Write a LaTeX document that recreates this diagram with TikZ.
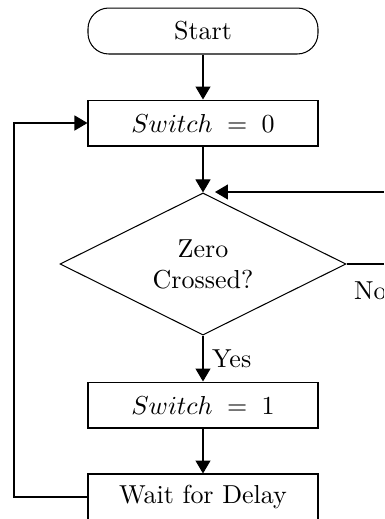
\documentclass[tikz,border=0pt]{standalone}
\usetikzlibrary{shapes.geometric,arrows.meta}
\begin{document}
\begin{tikzpicture}[x=0.385pt,y=-0.385pt,
  every node/.style={font=\normalsize},
  term/.style={draw,rectangle,rounded corners=8pt,minimum width=88.55pt,minimum height=17.7pt,inner sep=2pt},
  proc/.style={draw,rectangle,minimum width=88.55pt,minimum height=17.7pt,inner sep=2pt},
  decision/.style={draw,diamond,aspect=2,minimum width=110.1pt,minimum height=54.7pt,inner sep=0pt,align=center},
  arr/.style={-{Triangle[width=5.8pt,length=5pt]}}]
\useasboundingbox (0,0) rectangle (384,519);
\clip (0,0) rectangle (384,519);

% flow steps
\node[term] (start) at (203,31) {Start};
\node[proc] (sw0) at (203,123) {$Switch\;=\;0$};
\node[decision] (zc) at (203,264) {Zero\\Crossed?};
\node[proc] (sw1) at (203,405) {$Switch\;=\;1$};
\node[proc] (wait) at (203,497) {Wait for Delay};

% helper points for the two loops
\coordinate (lft) at (14,0);
\coordinate (rgt) at (400,0);
\coordinate (loopin) at (215,192);

% main line
\draw[arr] (start) -- (sw0);
\draw[arr] (sw0) -- (zc);
\draw[arr] (zc) -- node[right] (yes) {Yes} (sw1);
\draw[arr] (sw1) -- (wait);

% return from delay back to the reset step
\draw[arr] (wait.west) -- (wait.west -| lft) |- (sw0.west);

% "No" branch waits for the next crossing
\draw[arr] (zc.east) -- (zc.east -| rgt) |- (loopin);
\node[anchor=north west] (no) at (345,273) {No};
\end{tikzpicture}
\end{document}
